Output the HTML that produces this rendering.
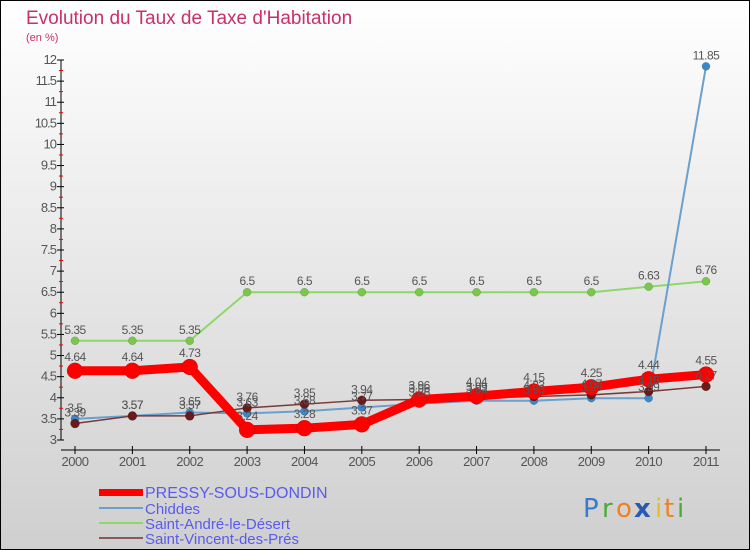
<!DOCTYPE html>
<html><head><meta charset="utf-8"><style>
body{margin:0;width:750px;height:550px;overflow:hidden;font-family:"Liberation Sans",sans-serif}
svg{display:block}
</style></head><body>
<svg id="chart" width="750" height="550" xmlns="http://www.w3.org/2000/svg">
<defs><linearGradient id="bg" x1="0" y1="0" x2="0" y2="1"><stop offset="0" stop-color="#ffffff"/><stop offset="1" stop-color="#cfcfcf"/></linearGradient></defs>
<rect x="0.5" y="0.5" width="749" height="549" fill="url(#bg)" stroke="#000"/>
<text x="26" y="24" font-size="19" fill="#c8306a">Evolution du Taux de Taxe d'Habitation</text>
<text x="26" y="41" font-size="11" fill="#c8306a">(en %)</text>
<g id="axes"></g><g id="series"></g><g id="labels"></g>
<g font-size="15" fill="#5a5af0">
<rect x="99" y="489" width="44" height="7" fill="#f00"/>
<line x1="99" y1="508" x2="143" y2="508" stroke="#6aa0cc" stroke-width="2"/>
<line x1="99" y1="523" x2="143" y2="523" stroke="#8ed86a" stroke-width="2"/>
<line x1="99" y1="538" x2="143" y2="538" stroke="#8a5a5a" stroke-width="2"/>
<text x="145" y="498" font-size="16">PRESSY-SOUS-DONDIN</text>
<text x="145" y="514">Chiddes</text>
<text x="145" y="529">Saint-André-le-Désert</text>
<text x="145" y="544">Saint-Vincent-des-Prés</text>
</g>
<g font-size="26" font-family="'DejaVu Sans',sans-serif">
<text x="583" y="517" fill="#3a7ac8">P</text><text x="602" y="517" fill="#4aaa3a">r</text><text x="616" y="517" fill="#f08020">o</text><text x="634" y="517" fill="#2a5ab0" font-weight="bold">x</text><text x="655" y="517" fill="#e0c020">i</text><text x="664" y="517" fill="#f08020">t</text><text x="677" y="517" fill="#4aaa3a">i</text>
</g>
</svg>
<script>
const years=[2000,2001,2002,2003,2004,2005,2006,2007,2008,2009,2010,2011];
const pressy=[4.64,4.64,4.73,3.24,3.28,3.37,3.96,4.04,4.15,4.25,4.44,4.55];
const chiddes=[3.5,3.57,3.65,3.63,3.68,3.77,3.86,3.93,3.93,3.99,3.99,11.85];
const andre=[5.35,5.35,5.35,6.5,6.5,6.5,6.5,6.5,6.5,6.5,6.63,6.76];
const vincent=[3.39,3.57,3.57,3.76,3.85,3.94,3.96,3.99,4.03,4.07,4.15,4.27];
const yTicks=[3,3.5,4,4.5,5,5.5,6,6.5,7,7.5,8,8.5,9,9.5,10,10.5,11,11.5,12];
const NS="http://www.w3.org/2000/svg";
const X=i=>75+i*(706-75)/(years.length-1);
const Y=v=>440-(v-3)*(380/9);
function mk(p,t,a){const e=document.createElementNS(NS,t);for(const k in a)e.setAttribute(k,a[k]);p.appendChild(e);return e;}
const ax=document.getElementById('axes');
let l=mk(ax,'line',{x1:61,y1:Y(12),x2:61,y2:Y(3),stroke:'#000'});


l=mk(ax,'line',{x1:61,y1:450,x2:720,y2:450,stroke:'#000'});


yTicks.forEach(v=>{const y=Y(v);
 const t=mk(ax,'line',{x1:57,y1:y,x2:64,y2:y,stroke:'#000'});
 
 
 const m=mk(ax,'line',{x1:59,y1:y+10.5,x2:63,y2:y+10.5,stroke:'#e00'});
 if(v===3)m.remove();
 const tx=mk(ax,'text',{x:56,y:y+4,'font-size':13,'text-anchor':'end',fill:'#555','letter-spacing':'-1'});
 tx.textContent=String(v);
 
 
});
years.forEach((yr,i)=>{const x=X(i);
 const t=mk(ax,'line',{x1:x,y1:446,x2:x,y2:454,stroke:'#000'});
 
 
 const tx=mk(ax,'text',{x:x,y:466,'font-size':13,'text-anchor':'middle',fill:'#555','letter-spacing':'-0.5'});
 tx.textContent=yr;
 
 
});
const sg=document.getElementById('series'),lg=document.getElementById('labels');
const defs=[
 {name:'saint-andre',d:andre,c:'#8ed86a',dot:'#7ac84a',w:2,r:4},
 {name:'chiddes',d:chiddes,c:'#6aa0cc',dot:'#3a88cc',w:2,r:4},
 {name:'saint-vincent',d:vincent,c:'#7a3a3a',dot:'#6a1a1a',w:1.5,r:4.5},
 {name:'pressy',d:pressy,c:'#f00',dot:'#f00',w:9,r:8}];
defs.forEach(s=>{
 const g=mk(sg,'g',{});
 
 
 const p=mk(g,'polyline',{points:s.d.map((v,i)=>X(i)+','+Y(v)).join(' '),fill:'none',stroke:s.c,'stroke-width':s.w,'stroke-linejoin':'round'});
 
 
 s.d.forEach((v,i)=>{
  const c=mk(g,'circle',{cx:X(i),cy:Y(v),r:s.r,fill:s.dot,stroke:'rgba(0,0,0,0.25)','stroke-width':0.5});
  
  
  const t=mk(lg,'text',{x:X(i),y:Y(v)-(s.name==='pressy'?10:7),'font-size':12,'text-anchor':'middle',fill:'#555','letter-spacing':'-0.5'});
  t.textContent=String(v);
  
  
 });
});
</script>
</body></html>
